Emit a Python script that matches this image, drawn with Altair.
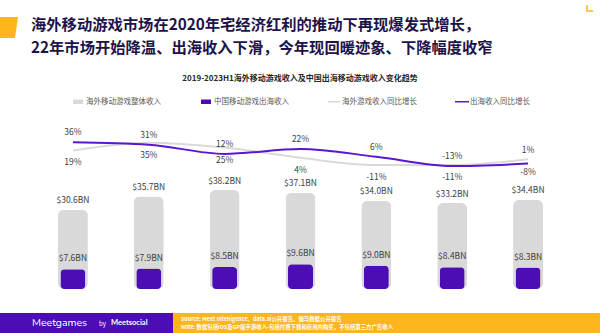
import altair as alt
import pandas as pd

# ---- data ----
categories = ["2020H1", "2020H2", "2021H1", "2021H2", "2022H1", "2022H2", "2023H1"]
overseas_total = [30.6, 35.7, 38.2, 37.1, 34.0, 33.2, 34.4]      # 海外移动游戏整体收入 ($BN)
china_overseas = [7.6, 7.9, 8.5, 9.6, 9.0, 8.4, 8.3]             # 中国移动游戏出海收入 ($BN)
overseas_growth = [19, 35, 25, 4, -11, -11, 1]                    # 海外游戏收入同比增长 (%)
china_growth = [36, 31, 12, 22, 6, -13, -8]                       # 出海收入同比增长 (%)

df = pd.DataFrame({
    "cat": categories,
    "total": overseas_total,
    "china": china_overseas,
    "g_total": overseas_growth,
    "g_china": china_growth,
})

FONT = "Noto Sans CJK SC"
GRAY = "#D9D9D9"
PURPLE = "#4C0DB5"
PURPLE_LINE = "#5A16D2"
YELLOW = "#FDB51E"
NAVY = "#1D1348"
TXT = "#404040"

W, H = 531, 174
OX, OY = 35, 115   # plot origin inside the 600x333 page

base = alt.Chart(df)
xenc_axis = alt.X(
    "cat:N", sort=categories,
    scale=alt.Scale(paddingInner=0, paddingOuter=0),
    axis=alt.Axis(title=None, labelAngle=0, domainColor=GRAY, tickColor=GRAY,
                  tickBand="extent", tickSize=4, labelFontSize=8.5, labelColor=TXT,
                  labelPadding=4, labelFont=FONT, domainWidth=1),
)
xenc = alt.X("cat:N", sort=categories, axis=None)

bar_scale = alt.Scale(domain=[0, 67.2], nice=False, zero=True)
line_scale = alt.Scale(domain=[-266, 92], nice=False, zero=False)

gray_bars = base.mark_bar(color=GRAY, size=30, cornerRadius=6).encode(
    x=xenc_axis, y=alt.Y("total:Q", scale=bar_scale, axis=None))
purple_bars = base.mark_bar(color=PURPLE, size=25, cornerRadius=4).encode(
    x=xenc, y=alt.Y("china:Q", scale=bar_scale, axis=None))
gray_lbl = base.transform_calculate(lbl="'$' + format(datum.total, '.1f') + 'BN'").mark_text(
    font=FONT, fontSize=8.5, color=TXT, baseline="middle", dy=-9.5).encode(
    x=xenc, y=alt.Y("total:Q", scale=bar_scale, axis=None), text="lbl:N")
purple_lbl = base.transform_calculate(lbl="'$' + format(datum.china, '.1f') + 'BN'").mark_text(
    font=FONT, fontSize=8.5, color=TXT, baseline="middle", dy=-11).encode(
    x=xenc, y=alt.Y("china:Q", scale=bar_scale, axis=None), text="lbl:N")

gray_line = base.mark_line(color=GRAY, strokeWidth=2, interpolate="monotone").encode(
    x=xenc, y=alt.Y("g_total:Q", scale=line_scale, axis=None))
purple_line = base.mark_line(color=PURPLE_LINE, strokeWidth=2, interpolate="monotone").encode(
    x=xenc, y=alt.Y("g_china:Q", scale=line_scale, axis=None))

last = categories[-1]

def pct_labels(field, cond, dy):
    return base.transform_filter(cond).transform_calculate(
        lbl=f"toString(datum.{field}) + '%'").mark_text(
        font=FONT, fontSize=8.5, color=TXT, baseline="middle", dy=dy).encode(
        x=xenc, y=alt.Y(f"{field}:Q", scale=line_scale, axis=None), text="lbl:N")

pc_above = pct_labels("g_china", f"datum.cat != '{last}'", -10)
pc_below = pct_labels("g_china", f"datum.cat == '{last}'", 8)
gt_below = pct_labels("g_total", f"datum.cat != '{last}'", 12)
gt_above = pct_labels("g_total", f"datum.cat == '{last}'", -9)

# ---- decorative page elements (absolute page positions) ----
one = alt.Data(values=[{"k": 0}])

def txt(s, X, Y, size, color, weight="normal", align="left", font=FONT):
    return alt.Chart(one).mark_text(font=font, fontSize=size, color=color, fontWeight=weight,
                                    align=align, baseline="middle").encode(
        x=alt.value(X - OX), y=alt.value(Y - OY), text=alt.value(s))

def rect(X1, X2, Y1, Y2, color):
    return alt.Chart(one).mark_rect(color=color).encode(
        x=alt.value(X1 - OX), x2=alt.value(X2 - OX), y=alt.value(Y1 - OY), y2=alt.value(Y2 - OY))

deco = [
    alt.Chart(one).mark_point(shape="M -0.86 -1 L 0.86 -1 L 0.57 1 L -0.86 1 Z", filled=True,
                              color=YELLOW, opacity=1, size=441, strokeWidth=0).encode(
        x=alt.value(9 - OX), y=alt.value(27.5 - OY)),
    alt.Chart(one).mark_point(shape="M -1 -1 L -1 1 L 1 1", filled=False, color=YELLOW,
                              opacity=1, size=36, strokeWidth=1.5).encode(
        x=alt.value(590 - OX), y=alt.value(8 - OY)),
    txt("海外移动游戏市场在2020年宅经济红利的推动下再现爆发式增长，", 31, 25, 15.3, NAVY, "bold"),
    txt("22年市场开始降温、出海收入下滑，今年现回暖迹象、下降幅度收窄", 31, 48, 15.3, NAVY, "bold"),
    txt("2019-2023H1海外移动游戏收入及中国出海移动游戏收入变化趋势", 300, 79, 8, "#262626", "bold", "center"),
    rect(73, 83, 99.5, 104, GRAY),
    txt("海外移动游戏整体收入", 86, 101.5, 7.5, "#595959"),
    rect(201, 211, 99.5, 104, PURPLE),
    txt("中国移动游戏出海收入", 214, 101.5, 7.5, "#595959"),
    rect(328, 340, 101, 102.5, GRAY),
    txt("海外游戏收入同比增长", 342, 101.5, 7.5, "#595959"),
    rect(455, 469, 101, 102.5, PURPLE_LINE),
    txt("出海收入同比增长", 470, 101.5, 7.5, "#595959"),
    rect(170, 600, 313, 333, YELLOW),
    rect(0, 173, 313, 333, PURPLE),
    txt("Meetgames", 32, 323, 10.5, "white", font="Nunito, Lato, Noto Sans"),
    txt("by", 99, 323.5, 6, "white"),
    txt("Meetsocial", 111, 323, 7.5, "white", "bold", font="Lato"),
    txt("Source: Meet Intelligence、data.ai公开报告、伽马数据公开报告", 181, 319, 5.4, "white", "bold"),
    txt("Note: 数据包括iOS及GP端手游收入-包括付费下载和应用内购买，不包括第三方广告收入", 181, 326.5, 5.4, "white", "bold"),
]

chart = alt.layer(
    gray_bars, purple_bars, gray_lbl, purple_lbl,
    gray_line, purple_line, pc_above, pc_below, gt_below, gt_above,
    *deco,
).resolve_scale(y="independent").properties(
    width=W, height=H, autosize="none",
    padding={"left": OX, "top": OY, "right": 600 - OX - W, "bottom": 333 - OY - H},
    background="white",
).configure_view(stroke=None)

chart.save("out.html", embed_options={"renderer": "svg", "actions": False})
